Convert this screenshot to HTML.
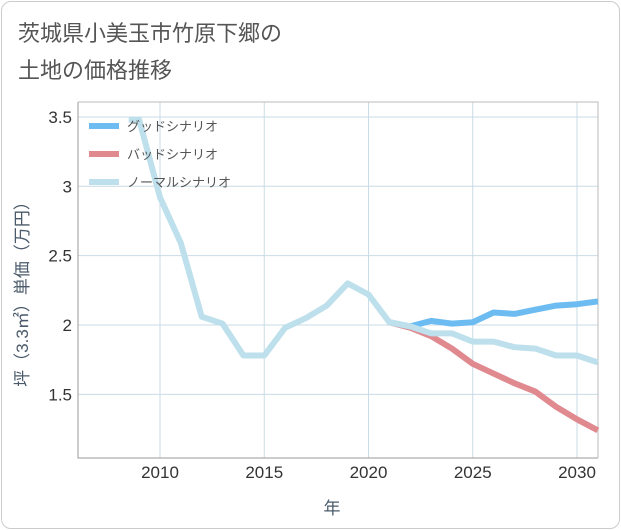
<!DOCTYPE html>
<html><head><meta charset="utf-8"><style>
body{margin:0;background:#fff;font-family:"Liberation Sans","Noto Sans CJK JP",sans-serif}
#card{position:absolute;left:1px;top:1px;width:617px;height:526px;border:1px solid #ccc;border-radius:10px;background:#fff}
</style></head><body>
<div id="card"></div>
<svg id="svg" width="621" height="530" style="position:absolute;left:0;top:0">
<text x="18" y="41" font-size="22" fill="#555">茨城県小美玉市竹原下郷の</text>
<text x="18" y="78" font-size="22" fill="#555">土地の価格推移</text>
<text transform="translate(28,290) rotate(-90)" text-anchor="middle" font-size="17" fill="#4a5a6a">坪（3.3㎡）単価（万円）</text>
<text x="332" y="514" text-anchor="middle" font-size="17" fill="#4a5a6a">年</text>
<g id="grid"></g><g id="lines"></g><g id="legend"></g>
</svg>
<script>
const xTicks=[2010,2015,2020,2025,2030];
const yTicks=[1.5,2,2.5,3,3.5];
const yTickLabels=["1.5","2","2.5","3","3.5"];
const normalYears=[2008.5,2009,2010,2011,2012,2013,2014,2015,2016,2017,2018,2019,2020,2021,2022,2023,2024,2025,2026,2027,2028,2029,2030,2031];
const normalVals=[3.48,3.48,2.92,2.59,2.06,2.01,1.78,1.78,1.98,2.05,2.14,2.30,2.22,2.02,1.99,1.94,1.94,1.88,1.88,1.84,1.83,1.78,1.78,1.73];
const fcYears=[2021,2022,2023,2024,2025,2026,2027,2028,2029,2030,2031];
const goodVals=[2.02,1.99,2.03,2.01,2.02,2.09,2.08,2.11,2.14,2.15,2.17];
const badVals=[2.02,1.98,1.92,1.83,1.72,1.65,1.58,1.52,1.41,1.32,1.24];
const L=78,R=598,T=102,B=458;
const X=y=>160+(y-2010)*20.85, Y=v=>325-(v-2)*138.7;
const ns="http://www.w3.org/2000/svg";
function mk(t,a,p){const e=document.createElementNS(ns,t);for(const k in a)e.setAttribute(k,a[k]);p.appendChild(e);return e;}
const g=document.getElementById('grid');
xTicks.forEach((t,i)=>{const l=mk('line',{x1:X(t),x2:X(t),y1:T,y2:B,stroke:'#c9dbe6','stroke-width':1},g);

const tx=mk('text',{x:X(t),y:B+20,'text-anchor':'middle','font-size':17,fill:'#333'},g);tx.textContent=t;
});
yTicks.forEach((t,i)=>{const l=mk('line',{x1:L,x2:R,y1:Y(t),y2:Y(t),stroke:'#c9dbe6','stroke-width':1},g);

const tx=mk('text',{x:L-6,y:Y(t)+6,'text-anchor':'end','font-size':17,fill:'#333'},g);tx.textContent=yTickLabels[i];
});
const ax=mk('path',{d:`M${L},${T}V${B}H${R}`,fill:'none',stroke:'#999','stroke-width':1},g);

const fr=mk('path',{d:`M${L},${T}H${R}V${B}`,fill:'none',stroke:'#bbb','stroke-width':1},g);

const lg=document.getElementById('lines');
function series(xs,vs,c,name){const p=mk('polyline',{points:xs.map((x,i)=>X(x)+','+Y(vs[i])).join(' '),fill:'none',stroke:c,'stroke-width':6,'stroke-linejoin':'round'},lg);
}
series(fcYears,badVals,'#e08a90','bad-scenario-line');
series(fcYears,goodVals,'#6cbcf2','good-scenario-line');
series(normalYears,normalVals,'#bde0ec','normal-scenario-line');
const leg=document.getElementById('legend');
[['グッドシナリオ','#6cbcf2'],['バッドシナリオ','#e08a90'],['ノーマルシナリオ','#bde0ec']].forEach((d,i)=>{
const y=126+i*28;
const r=mk('rect',{x:89,y:y-3,width:30,height:6,fill:d[1]},leg);

const t=mk('text',{x:127,y:y+5,'font-size':13,fill:'#555'},leg);t.textContent=d[0];
});
</script>
</body></html>
